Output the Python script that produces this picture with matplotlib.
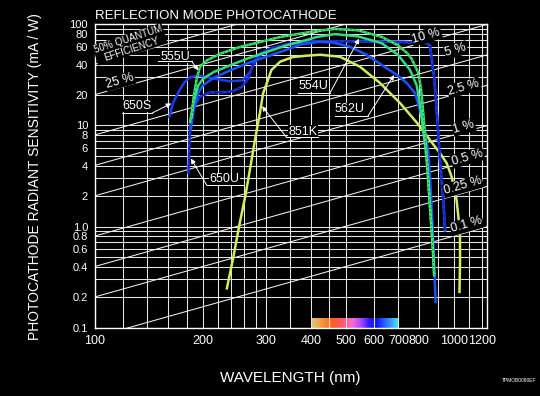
import numpy as np
import matplotlib
matplotlib.use('Agg')
import matplotlib.pyplot as plt
from matplotlib.colors import LinearSegmentedColormap

plt.rcParams['font.family'] = ['Liberation Sans', 'DejaVu Sans']

# spectral response curves, wavelength (nm) vs radiant sensitivity (mA/W)
wl_555u = [186, 188, 192, 196, 205, 223, 253, 288, 328, 372, 415, 466, 540, 629, 698, 740,
           762, 794, 805, 813, 820, 830, 839, 847, 857, 867, 876, 881]
s_555u = [12.1, 18.4, 29.0, 37.8, 44.0, 51.2, 59.6, 66.8, 74.9, 80.7, 86.0, 90.0, 87.2, 75.0, 62.0, 52.0,
          45.7, 33.7, 26.0, 20.0, 14.0, 8.5, 5.0, 3.1, 1.6, 0.9, 0.5, 0.33]

wl_554u = [184, 188, 194, 200, 214, 238, 265, 301, 342, 389, 415, 466, 540, 629, 698, 754,
           787, 800, 810, 820, 830, 839, 847, 857, 867, 876, 880]
s_554u = [10.8, 17.0, 24.9, 29.0, 33.7, 39.3, 45.7, 53.2, 62.0, 70.0, 75.0, 80.0, 76.0, 65.0, 50.0, 35.5,
          25.0, 18.0, 13.0, 9.0, 6.6, 4.6, 3.0, 1.6, 0.9, 0.5, 0.34]

wl_562u = [185, 188, 194, 200, 214, 238, 265, 301, 342, 372, 420, 460, 513, 572, 650, 694,
           740, 779, 794, 814, 830, 847, 857, 867, 880, 889]
s_562u = [9.0, 14.0, 21.0, 25.0, 29.5, 35.0, 41.0, 48.0, 56.0, 63.0, 67.0, 66.0, 60.0, 49.7, 36.7, 31.5,
          26.1, 20.8, 16.6, 12.2, 8.5, 5.7, 3.3, 1.5, 0.47, 0.18]

wl_650s = [161, 165, 172, 178, 184, 196, 214, 238, 258, 270, 279, 288, 307, 349, 405, 507,
           698, 830, 857, 867, 876, 881, 895, 914, 934, 944]
s_650s = [12.1, 16.7, 22.4, 27.0, 30.0, 31.0, 29.0, 27.3, 27.9, 33.7, 44.0, 51.2, 57.4, 64.3, 68.0, 68.0,
          67.0, 66.0, 62.0, 45.0, 34.0, 30.0, 14.2, 4.55, 1.83, 0.92]

wl_650u = [182, 183, 184, 186, 188, 191, 196, 209, 227, 242, 256, 267, 275, 288, 307, 349,
           405, 507, 698, 830, 857, 867, 876, 881, 895, 914, 934, 944]
s_650u = [3.4, 6.0, 9.0, 12.0, 14.5, 16.5, 19.2, 21.2, 21.2, 21.8, 24.0, 29.0, 39.0, 49.4, 57.4, 64.3,
          68.0, 68.0, 67.0, 66.0, 62.0, 45.0, 34.0, 30.0, 14.2, 4.55, 1.83, 0.92]

wl_851k = [233, 242, 253, 262, 270, 279, 288, 294, 301, 310, 328, 356, 390, 424, 481, 547,
           622, 707, 789, 857, 914, 954, 985, 1017, 1030, 1039, 1040, 1036]
s_851k = [0.245, 0.466, 1.08, 1.97, 3.62, 7.17, 13.3, 20.8, 26.1, 35.3, 42.7, 47.5, 49.0, 50.0, 47.8, 38.1,
          26.3, 16.7, 10.6, 7.17, 5.33, 4.25, 3.11, 1.83, 1.2, 0.86, 0.47, 0.226]

qe_levels = [50, 25, 10, 5, 2.5, 1, 0.5, 0.25, 0.1]

x_major = [100, 200, 300, 400, 500, 600, 700, 800, 1000, 1200]
x_minor = [120, 140, 160, 180, 220, 240, 260, 280, 350, 450, 900, 1100]
y_major = [0.1, 0.2, 0.4, 0.6, 0.8, 1, 2, 4, 6, 8, 10, 20, 40, 60, 80, 100]
y_labels = ['0.1', '0.2', '0.4', '0.6', '0.8', '1.0', '2', '4', '6', '8', '10', '20', '40', '60', '80', '100']
y_minor = [0.3, 0.5, 0.7, 0.9, 3, 5, 7, 9, 30, 50, 70, 90]

spectrum_colors = ['#e2c47e', '#f4923a', '#ff5a24', '#ff5a70', '#ff6ad2', '#b048ff',
                   '#2a1cff', '#0a14ff', '#2a5cff', '#3a9cff', '#44e4ee']

fig = plt.figure(figsize=(5.4, 3.96), dpi=100, facecolor='black')
ax = fig.add_axes([95 / 540, 1 - 327.7 / 396, 392 / 540, 303.4 / 396])
ax.set_facecolor('black')
ax.set_xscale('log')
ax.set_yscale('log')
ax.set_xlim(100, 1236)
ax.set_ylim(0.1, 100)

ax.set_xticks(x_major)
ax.set_xticklabels([str(v) for v in x_major])
ax.set_xticks(x_minor, minor=True)
ax.set_xticklabels([], minor=True)
ax.set_yticks(y_major)
ax.set_yticklabels(y_labels)
ax.set_yticks(y_minor, minor=True)
ax.set_yticklabels([], minor=True)
ax.tick_params(which='both', length=0, colors='white')
ax.tick_params(axis='x', labelsize=9, pad=5)
ax.tick_params(axis='y', labelsize=8, pad=5)
ax.grid(True, which='both', color='#e6e6e6', lw=0.75)
for sp in ax.spines.values():
    sp.set_color('white')
    sp.set_linewidth(1.0)

# visible spectrum strip
cmap = LinearSegmentedColormap.from_list('spec', spectrum_colors)
xs = np.linspace(400, 700, 121)
ax.pcolormesh(xs, [0.1, 0.1236], xs[np.newaxis, :-1], cmap=cmap, zorder=1)

# quantum efficiency lines
wl_line = np.array([100, 1236])
for qe in qe_levels:
    ax.plot(wl_line, qe / 100 * wl_line / 1.24, color='#f0f0f0', lw=0.75, zorder=1.8)

# curves
ax.plot(wl_851k, s_851k, color='#cdef5f', lw=1.8, zorder=3)
ax.plot(wl_650s, s_650s, color='#1b3cf2', lw=1.8, zorder=3)
ax.plot(wl_650u, s_650u, color='#1a34e6', lw=1.8, zorder=3)
ax.plot(wl_650u, s_650u, color='#0a107a', lw=0.6, dashes=(3, 4), zorder=3.1)
ax.plot(wl_562u, s_562u, color='#1f50ff', lw=1.8, zorder=3.2)
ax.plot(wl_554u, s_554u, color='#30dc80', lw=1.8, zorder=3.3)
ax.plot(wl_555u, s_555u, color='#3ee872', lw=1.8, zorder=3.4)
ax.plot(wl_555u, s_555u, color='#0c4a1c', lw=0.5, dashes=(2, 4), zorder=3.5)

box = dict(facecolor='black', edgecolor='none', pad=0.6)

# QE labels
qe_text = [('10 %', 838, 76.9), ('5 %', 1013, 55.7), ('2.5 %', 1066, 23.7), ('1 %', 1066, 9.64),
           ('0.5 %', 1091, 4.81), ('0.25 %', 1059, 2.52), ('0.1 %', 1085, 1.035), ('25 %', 117.4, 27.5)]
for t, x, y in qe_text:
    ax.text(x, y, t, color='white', fontsize=9, rotation=16, rotation_mode='anchor',
            ha='center', va='center', bbox=box, zorder=6)
ax.text(125, 63.5, '50% QUANTUM\nEFFICIENCY', color='white', fontsize=7, rotation=18,
        rotation_mode='anchor', ha='center', va='center', linespacing=0.95, bbox=box, zorder=6)


def curve_label(text, xt, yt, shelf, start, tip):
    ax.text(xt, yt, text, color='white', fontsize=9, ha='center', va='center',
            bbox=dict(facecolor='black', edgecolor='none', pad=0.3), zorder=6)
    ax.plot(shelf[:2], [shelf[2], shelf[2]], color='white', lw=0.7, zorder=6)
    ax.annotate('', xy=tip, xytext=start,
                arrowprops=dict(arrowstyle='-|>', color='white', lw=0.7, mutation_scale=7,
                                shrinkA=0, shrinkB=0), zorder=6)


curve_label('555U', 167, 48.0, (150, 186, 43.0), (186, 43.0), (194, 35.0))
curve_label('650S', 131, 15.6, (119, 144, 13.2), (144, 13.2), (163, 16.5))
curve_label('650U', 230, 2.95, (205, 258, 2.55), (205, 2.55), (185, 4.7))
curve_label('554U', 405, 24.5, (368, 452, 21.1), (452, 21.1), (544, 72.0))
curve_label('562U', 513, 14.5, (466, 576, 12.4), (576, 12.4), (681, 31.5))
curve_label('851K', 379, 8.67, (341, 418, 7.7), (341, 7.7), (292, 15.5))

fig.text(95 / 540, 1 - 19 / 396, 'REFLECTION MODE PHOTOCATHODE', color='white', fontsize=9.5,
         ha='left', va='baseline')
fig.text(35 / 540, 1 - 177 / 396, 'PHOTOCATHODE RADIANT SENSITIVITY (mA / W)', color='white',
         fontsize=10, rotation=90, ha='center', va='center')
fig.text(290 / 540, 1 - 378 / 396, 'WAVELENGTH (nm)', color='white', fontsize=11,
         ha='center', va='center')
fig.text(519 / 540, 1 - 380 / 396, 'TPMOB0080EF', color='white', fontsize=3.5,
         ha='center', va='center')

fig.savefig('out.png', dpi=100, facecolor='black')
